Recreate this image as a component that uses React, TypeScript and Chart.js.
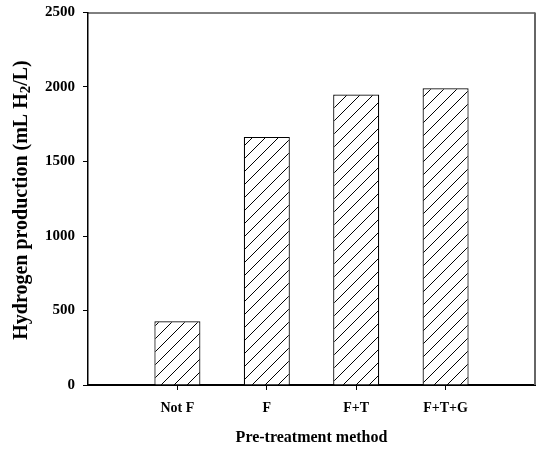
import React, { useEffect, useRef } from 'react';
import { Chart, registerables } from 'chart.js';

Chart.register(...registerables);

const categories = ['Not F', 'F', 'F+T', 'F+T+G'];
const production = [428, 1665, 1949, 1991];
const yTicks = [0, 500, 1000, 1500, 2000, 2500];
const xTitle = 'Pre-treatment method';
const yTitleParts = ['Hydrogen production (mL H', '2', '/L)'];

const FONT = '"Liberation Serif", "Times New Roman", serif';

function makeHatch(ctx: CanvasRenderingContext2D): CanvasPattern | string {
  const size = 13;
  const c = document.createElement('canvas');
  c.width = size;
  c.height = size;
  const g = c.getContext('2d');
  if (!g) return '#fff';
  g.fillStyle = '#fff';
  g.fillRect(0, 0, size, size);
  g.strokeStyle = '#000';
  g.lineWidth = 1;
  g.beginPath();
  g.moveTo(-1, size + 1);
  g.lineTo(size + 1, -1);
  g.moveTo(-size / 2 - 1, size / 2 + 1);
  g.lineTo(size / 2 + 1, -size / 2 - 1);
  g.moveTo(size / 2 - 1, size * 1.5 + 1);
  g.lineTo(size * 1.5 + 1, size / 2 - 1);
  g.stroke();
  return ctx.createPattern(c, 'repeat') || '#fff';
}

const framePlugin = {
  id: 'frame',
  afterDraw(chart: any) {
    const { ctx, chartArea } = chart;
    const { left, right, top, bottom } = chartArea;
    ctx.save();
    ctx.strokeStyle = '#000';
    ctx.lineWidth = 1;
    ctx.beginPath();
    ctx.moveTo(left, top + 0.5);
    ctx.lineTo(right, top + 0.5);
    ctx.stroke();
    ctx.strokeStyle = '#666';
    ctx.lineWidth = 2;
    ctx.beginPath();
    ctx.moveTo(right, top);
    ctx.lineTo(right, bottom);
    ctx.stroke();

    // y axis title with subscript
    const fontSize = 20;
    const subSize = 15;
    ctx.fillStyle = '#000';
    ctx.textBaseline = 'middle';
    ctx.font = `bold ${fontSize}px ${FONT}`;
    const w0 = ctx.measureText(yTitleParts[0]).width;
    const w2 = ctx.measureText(yTitleParts[2]).width;
    ctx.font = `bold ${subSize}px ${FONT}`;
    const w1 = ctx.measureText(yTitleParts[1]).width;
    const total = w0 + w1 + w2;
    const cx = 22;
    const cy = 200;
    ctx.translate(cx, cy);
    ctx.rotate(-Math.PI / 2);
    let x = -total / 2;
    ctx.textAlign = 'left';
    ctx.font = `bold ${fontSize}px ${FONT}`;
    ctx.fillText(yTitleParts[0], x, 0);
    x += w0;
    ctx.font = `bold ${subSize}px ${FONT}`;
    ctx.fillText(yTitleParts[1], x, 4);
    x += w1;
    ctx.font = `bold ${fontSize}px ${FONT}`;
    ctx.fillText(yTitleParts[2], x, 0);
    ctx.restore();
  },
};

export default function App() {
  const ref = useRef<HTMLCanvasElement | null>(null);

  useEffect(() => {
    const canvas = ref.current;
    if (!canvas) return;
    const ctx = canvas.getContext('2d');
    if (!ctx) return;
    const hatch = makeHatch(ctx);
    const labels = ['', ...categories, ''];
    const data = [null, ...production, null];

    const chart = new Chart(canvas, {
      type: 'bar',
      data: {
        labels,
        datasets: [
          {
            data,
            backgroundColor: hatch as any,
            borderColor: '#000',
            borderWidth: 1.2,
            categoryPercentage: 1,
            barPercentage: 0.515,
          },
        ],
      },
      options: {
        responsive: false,
        animation: false,
        layout: { padding: { top: 4, right: 2, left: 0, bottom: 0 } },
        plugins: {
          legend: { display: false },
          tooltip: { enabled: false },
          title: { display: false },
        },
        scales: {
          x: {
            type: 'category',
            offset: false,
            afterFit(scale: any) {
              scale.height = 68;
            },
            grid: {
              offset: false,
              drawOnChartArea: false,
              drawTicks: true,
              tickLength: 5,
              color: '#000',
              lineWidth: 1,
            },
            border: { display: true, color: '#000', width: 2 },
            ticks: {
              autoSkip: false,
              maxRotation: 0,
              padding: 10,
              color: '#000',
              font: { family: FONT, size: 14, weight: 'bold' },
              callback(this: any, value: any) {
                const l = this.getLabelForValue(value);
                return l ? l : null;
              },
            },
            title: {
              display: true,
              text: xTitle,
              color: '#000',
              font: { family: FONT, size: 16, weight: 'bold' },
              padding: { top: 0, bottom: 6 },
            },
          },
          y: {
            min: 0,
            max: 2500,
            afterFit(scale: any) {
              scale.width = 88;
            },
            afterBuildTicks(scale: any) {
              scale.ticks = yTicks.map((v) => ({ value: v }));
            },
            grid: {
              drawOnChartArea: false,
              drawTicks: true,
              tickLength: 5,
              color: '#000',
              lineWidth: 1,
            },
            border: { display: true, color: '#000', width: 1.5 },
            ticks: {
              padding: 8,
              color: '#000',
              font: { family: FONT, size: 15, weight: 'bold', lineHeight: 0.6 },
              callback(value: any) {
                return String(value);
              },
            },
          },
        },
      },
      plugins: [framePlugin],
    });
    return () => chart.destroy();
  }, []);

  return (
    <div style={{ position: 'absolute', left: 0, top: 0, width: 537, height: 453, background: '#fff' }}>
      <canvas ref={ref} width={537} height={453} style={{ width: 537, height: 453 }} />
    </div>
  );
}
